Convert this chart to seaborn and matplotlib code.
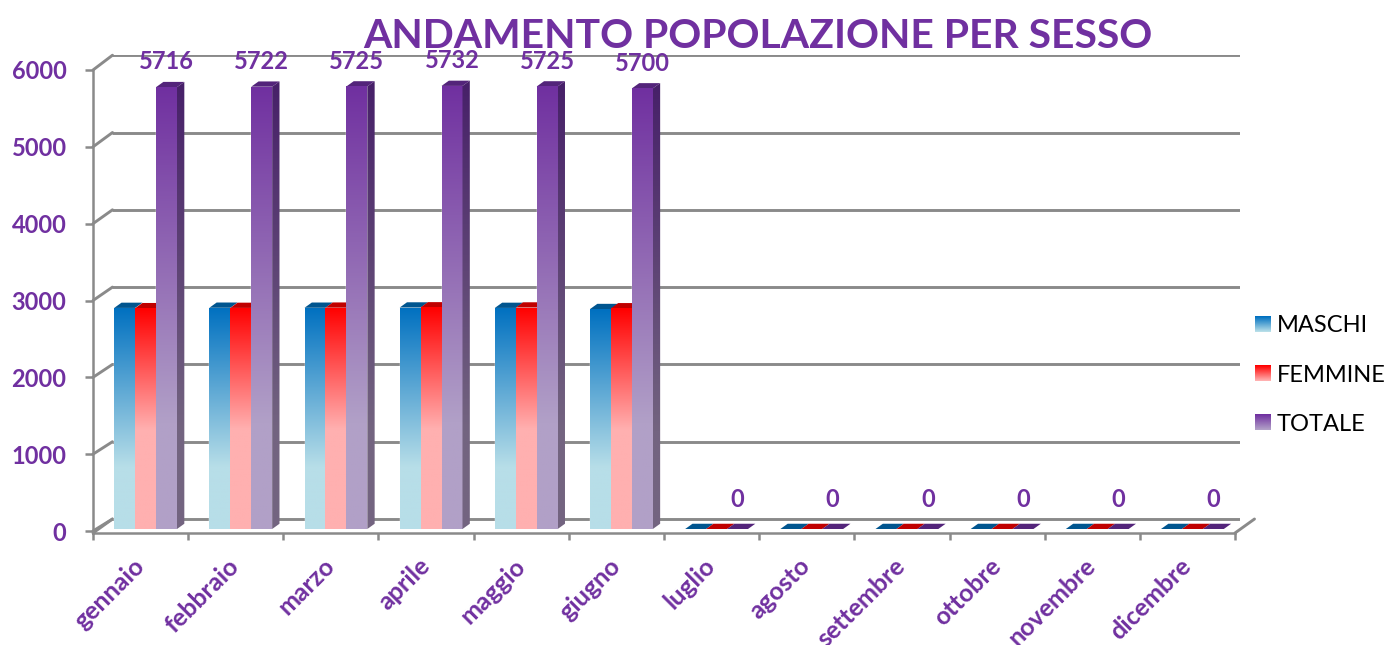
import numpy as np
import pandas as pd
import seaborn as sns
import matplotlib
matplotlib.use("Agg")
import matplotlib.pyplot as plt
from matplotlib.colors import LinearSegmentedColormap
from matplotlib.legend_handler import HandlerBase
from matplotlib.lines import Line2D
from matplotlib.patches import Polygon, Rectangle
from matplotlib.transforms import Affine2D, IdentityTransform

mesi = ['gennaio', 'febbraio', 'marzo', 'aprile', 'maggio', 'giugno', 'luglio',
        'agosto', 'settembre', 'ottobre', 'novembre', 'dicembre']
maschi = [2860, 2862, 2862, 2865, 2860, 2845, 0, 0, 0, 0, 0, 0]
femmine = [2856, 2860, 2863, 2867, 2865, 2855, 0, 0, 0, 0, 0, 0]
totale = [5716, 5722, 5725, 5732, 5725, 5700, 0, 0, 0, 0, 0, 0]
serie = ['MASCHI', 'FEMMINE', 'TOTALE']
y_ticks = [0, 1000, 2000, 3000, 4000, 5000, 6000]

VIOLA = '#7030a0'
GRIGIO = '#8a8a8a'
# gradient stops: (position from the top of the bar, colour)
sfumature = {
    'MASCHI': [(0, '#0070c0'), (0.72, '#b7dee8'), (1, '#b7dee8')],
    'FEMMINE': [(0, '#ff0000'), (0.55, '#ffb0b0'), (1, '#ffb0b0')],
    'TOTALE': [(0, '#7030a0'), (0.76, '#b1a0c7'), (1, '#b1a0c7')],
}
tetti = {'MASCHI': '#00558f', 'FEMMINE': '#c00000', 'TOTALE': '#53247a'}
lato_viola = [(0, '#472069'), (0.78, '#736480'), (1, '#736480')]

W, H = 1388, 645
DEPTH_X, DEPTH_Y = 0.077, 68

sns.set_style("white")
plt.rcParams['font.family'] = ['Lato', 'DejaVu Sans']

df = pd.DataFrame({'mese': mesi * 3,
                   'valore': maschi + femmine + totale,
                   'serie': [s for s in serie for _ in mesi]})


def cmap_da(stops):
    return LinearSegmentedColormap.from_list('s', stops)


def riempi(ax, stops, extent, clip):
    # vertical gradient, clipped on the face it belongs to
    grad = np.linspace(0, 1, 256).reshape(-1, 1)
    im = ax.imshow(grad, cmap=cmap_da(stops), extent=extent, aspect='auto',
                   origin='upper', zorder=3, vmin=0, vmax=1)
    ax.add_patch(clip)
    im.set_clip_path(clip)


fig = plt.figure(figsize=(W / 100, H / 100), dpi=100)

# front plane: the real axis lines, ticks and labels
front = fig.add_axes([93 / W, (H - 533) / H, 1142 / W, 463 / H])
front.set_xlim(-0.5, 11.5)
front.set_ylim(-26, 6000)
front.patch.set_alpha(0)
for s in ['top', 'right']:
    front.spines[s].set_visible(False)
for s in ['left', 'bottom']:
    front.spines[s].set_color(GRIGIO)
    front.spines[s].set_linewidth(1.8)
front.set_yticks(y_ticks)
front.set_yticklabels([str(v) for v in y_ticks], color=VIOLA, fontsize=17,
                      fontweight='bold')
front.tick_params(axis='y', left=True, length=6, width=1.8, color=GRIGIO, pad=13)
front.set_xticks(np.arange(-0.5, 12, 1))
front.set_xticklabels([])
front.tick_params(axis='x', which='major', bottom=True, length=5, width=1.8, color=GRIGIO)
front.set_xticks(np.arange(12), minor=True)
front.set_xticklabels(mesi, minor=True, rotation=45, ha='right', va='center',
                      rotation_mode='anchor', color=VIOLA, fontsize=18,
                      fontweight='bold')
front.tick_params(axis='x', which='minor', bottom=False, length=0, pad=21)

# plane of the bars
ax = fig.add_axes([98 / W, (H - 529) / H, 1142 / W, 474 / H])
ax.patch.set_alpha(0)
ax.set_axis_off()
sns.barplot(data=df, x='mese', y='valore', hue='serie', order=mesi, hue_order=serie,
            width=0.66, gap=0, saturation=1, legend=False, ax=ax,
            palette=[sfumature[s][0][1] for s in serie])
ax.set_xlim(-0.5, 11.5)
ax.set_ylim(0, 6132)

# back wall and floor
back = ax.transData + Affine2D().translate(14.5, 10)
ax.hlines(y_ticks, -0.5, 11.5, color=GRIGIO, lw=2.1, transform=back, zorder=0)
for v in y_ticks:
    p0 = front.transData.transform((-0.5, v))
    p1 = back.transform((-0.5, v))
    fig.add_artist(Line2D([p0[0], p1[0]], [p0[1], p1[1]], color=GRIGIO, lw=2.1,
                          transform=IdentityTransform(), zorder=-1))
p0 = front.transData.transform((11.5, -26))
p1 = back.transform((11.5, 0))
fig.add_artist(Line2D([p0[0], p1[0]], [p0[1], p1[1]], color=GRIGIO, lw=2.1,
                      transform=IdentityTransform(), zorder=-1))
p1 = back.transform((-0.5, 0))
p0 = front.transData.transform((-0.5, -26))
fig.add_artist(Line2D([p0[0], p1[0]], [p0[1], p1[1]], color=GRIGIO, lw=2.1,
                      transform=IdentityTransform(), zorder=-1))

# faces of each bar
for nome, cont in zip(serie, ax.containers):
    for bar in cont:
        x0, w, h = bar.get_x(), bar.get_width(), bar.get_height()
        x1 = x0 + w
        bar.set_zorder(2)
        tetto = Polygon([(x0, h), (x1, h), (x1 + DEPTH_X, h + DEPTH_Y), (x0 + DEPTH_X, h + DEPTH_Y)],
                        closed=True, fc=tetti[nome], ec='none', zorder=2.5)
        ax.add_patch(tetto)
        if h == 0:
            bar.set_visible(False)
            continue
        riempi(ax, sfumature[nome], (x0, x1, 0, h),
               Rectangle((x0, 0), w, h, fc='none', ec='none', transform=ax.transData))
        if nome == 'TOTALE':
            lato = Polygon([(x1, 0), (x1 + DEPTH_X, DEPTH_Y), (x1 + DEPTH_X, h + DEPTH_Y), (x1, h)],
                           closed=True, fc='none', ec='none')
            riempi(ax, lato_viola, (x1, x1 + DEPTH_X, 0, h + DEPTH_Y), lato)
ax.set_xlim(-0.5, 11.5)
ax.set_ylim(0, 6132)

# data labels, the zeros sit a little higher
cont = ax.containers[2]
ax.bar_label(cont, labels=[str(v) if v > 0 else '' for v in totale], padding=10,
             color=VIOLA, fontsize=17, fontweight='bold', zorder=5)
ax.bar_label(cont, labels=['0' if v == 0 else '' for v in totale], padding=13,
             color=VIOLA, fontsize=17, fontweight='bold', zorder=5)


class HandlerSfumato(HandlerBase):
    def create_artists(self, legend, orig_handle, xdescent, ydescent, width, height,
                       fontsize, trans):
        cm = cmap_da(orig_handle.stops)
        n = 16
        out = []
        for i in range(n):
            out.append(Rectangle((-xdescent, -ydescent + height * (1 - (i + 1) / n)), width,
                                 height / n + 0.2, fc=cm(i / (n - 1)), ec='none', transform=trans))
        return out


handles = []
for s in serie:
    h = Rectangle((0, 0), 1, 1)
    h.stops = [(0, sfumature[s][0][1]), (1, sfumature[s][1][1])]
    handles.append(h)
fig.legend(handles, serie, handler_map={Rectangle: HandlerSfumato()},
           loc='center left', bbox_to_anchor=(1248 / W, (H - 375) / H), frameon=False,
           fontsize=17, labelcolor='black', handlelength=0.68, handleheight=0.68,
           handletextpad=0.25, labelspacing=1.19, borderpad=0, borderaxespad=0.3)

fig.text(758 / W, (H - 36) / H, 'ANDAMENTO POPOLAZIONE PER SESSO', color=VIOLA,
         fontsize=29.4, fontweight='bold', ha='center', va='center')

fig.savefig('out.png', dpi=100)
